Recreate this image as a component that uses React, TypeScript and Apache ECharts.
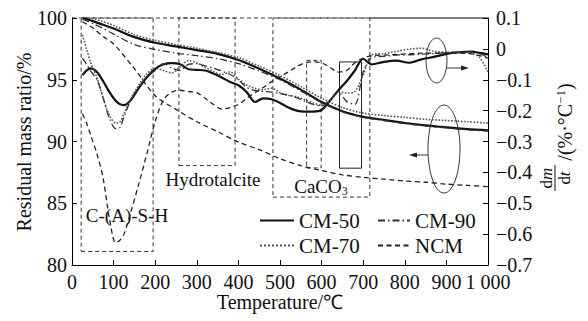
import React, { useEffect, useRef } from 'react';
import * as echarts from 'echarts';

const FONT = 'Liberation Serif, Times New Roman, serif';

// ---- TG (residual mass ratio, left axis) ----
const tempTG = [25, 50, 75, 100, 150, 200, 250, 300, 350, 400, 450, 500, 550, 600, 650, 700, 750, 800, 850, 900, 950, 1000];
const tgCM50 = [100.0, 99.75, 99.45, 99.15, 98.45, 98.0, 97.7, 97.4, 97.1, 96.6, 95.9, 95.1, 94.2, 93.2, 92.45, 92.0, 91.75, 91.5, 91.3, 91.15, 91.0, 90.9];
const tgCM70 = [100.1, 99.95, 99.7, 99.4, 98.65, 98.2, 97.85, 97.55, 97.2, 96.8, 96.1, 95.35, 94.45, 93.5, 92.75, 92.3, 92.1, 91.95, 91.8, 91.7, 91.6, 91.5];
const tgCM90 = [99.9, 99.55, 99.15, 98.7, 97.85, 97.45, 97.15, 96.95, 96.7, 96.3, 95.7, 95.0, 94.1, 93.15, 92.4, 91.95, 91.7, 91.45, 91.25, 91.1, 90.95, 90.85];
const tgNCM = [99.7, 99.2, 98.5, 97.9, 95.9, 93.7, 92.6, 91.6, 90.8, 89.95, 89.35, 88.6, 88.05, 87.65, 87.3, 87.1, 86.95, 86.8, 86.7, 86.55, 86.45, 86.35];

// ---- DTG (dm/dt, right axis) ----
const tempDTG = [25, 35, 45, 60, 75, 90, 105, 115, 125, 140, 160, 180, 200, 220, 240, 260, 280, 300, 320, 340, 360, 380, 400, 420, 440, 460, 480, 500, 520, 540, 560, 580, 600, 620, 640, 660, 680, 700, 720, 750, 780, 810, 840, 870, 900, 930, 960, 980, 1000];
const dtgCM50 = [-0.085, -0.07, -0.063, -0.075, -0.105, -0.14, -0.168, -0.179, -0.182, -0.168, -0.128, -0.092, -0.065, -0.05, -0.046, -0.05, -0.066, -0.068, -0.07, -0.08, -0.093, -0.107, -0.118, -0.14, -0.172, -0.16, -0.163, -0.175, -0.19, -0.2, -0.203, -0.203, -0.198, -0.168, -0.135, -0.105, -0.07, -0.032, -0.05, -0.042, -0.038, -0.045, -0.034, -0.026, -0.016, -0.011, -0.009, -0.013, -0.018];
const dtgCM70 = [0.045, 0.0, -0.045, -0.092, -0.16, -0.215, -0.24, -0.237, -0.21, -0.165, -0.118, -0.08, -0.063, -0.07, -0.078, -0.058, -0.038, -0.045, -0.06, -0.073, -0.083, -0.075, -0.098, -0.117, -0.128, -0.132, -0.127, -0.142, -0.15, -0.155, -0.165, -0.175, -0.183, -0.168, -0.138, -0.143, -0.138, -0.085, -0.02, -0.015, -0.008, -0.001, 0.002, -0.008, -0.011, -0.012, -0.014, -0.028, -0.075];
const dtgCM90 = [-0.03, -0.05, -0.072, -0.1, -0.16, -0.225, -0.258, -0.255, -0.22, -0.17, -0.125, -0.092, -0.07, -0.048, -0.062, -0.07, -0.05, -0.048, -0.055, -0.062, -0.072, -0.083, -0.1, -0.125, -0.135, -0.138, -0.14, -0.145, -0.15, -0.158, -0.17, -0.18, -0.185, -0.165, -0.14, -0.17, -0.18, -0.075, -0.028, -0.024, -0.02, -0.019, -0.017, -0.015, -0.012, -0.01, -0.009, -0.015, -0.028];
const dtgNCM = [-0.21, -0.24, -0.28, -0.34, -0.42, -0.55, -0.628, -0.62, -0.6, -0.535, -0.44, -0.34, -0.235, -0.165, -0.14, -0.134, -0.138, -0.142, -0.16, -0.18, -0.195, -0.19, -0.18, -0.16, -0.142, -0.125, -0.106, -0.09, -0.075, -0.058, -0.045, -0.042, -0.045, -0.06, -0.075, -0.07, -0.045, -0.03, -0.022, -0.02, -0.018, -0.016, -0.014, -0.014, -0.014, -0.014, -0.016, -0.022, -0.03];

const seriesNames = ['CM-50', 'CM-70', 'CM-90', 'NCM'];
const tgValues = [tgCM50, tgCM70, tgCM90, tgNCM];
const dtgValues = [dtgCM50, dtgCM70, dtgCM90, dtgNCM];

// Region boxes, in data coords of the left axis: [x1, y1, x2, y2]
const boxCASH = [22, 81.1, 195, 100];
const boxHydro = [257, 88.05, 392, 100];
const boxCaCO3 = [483, 85.5, 716, 100];
const boxInner = [564, 87.86, 599, 96.57];
const boxSolid = [643, 87.84, 696, 96.44];

const lineStyles: Record<string, any> = {
  'CM-50': { color: '#111', width: 2.2, type: 'solid' },
  'CM-70': { color: '#555', width: 1.6, type: 'dotted' },
  'CM-90': { color: '#333', width: 1.3, type: [7, 3, 1.5, 3] },
  NCM: { color: '#222', width: 1.3, type: [5, 3.5] },
};

export default function App() {
  const ref = useRef<HTMLDivElement>(null);
  useEffect(() => {
    const chart = echarts.init(ref.current!, null, { renderer: 'svg' });
    const pair = (xs: number[], ys: number[]) => xs.map((x, i) => [x, ys[i]]);
    const box = (b: number[], extra?: any) => [
      { coord: [b[0], b[1]], ...(extra || {}) },
      { coord: [b[2], b[3]] },
    ];

    const series: any[] = [];
    seriesNames.forEach((name, i) => {
      const ls = lineStyles[name];
      const s: any = {
        name,
        type: 'line',
        yAxisIndex: 0,
        data: pair(tempTG, tgValues[i]),
        showSymbol: false,
        symbol: 'none',
        smooth: 0.3,
        lineStyle: ls,
        itemStyle: { color: ls.color },
        emphasis: { disabled: true },
        silent: true,
        z: 3,
      };
      if (i === 0) {
        s.markArea = {
          silent: true,
          label: { show: false },
          itemStyle: { color: 'rgba(0,0,0,0)', borderColor: '#333', borderWidth: 1, borderType: [4, 3] },
          emphasis: { disabled: true },
          data: [
            box(boxCASH),
            box(boxHydro),
            box(boxCaCO3),
            box(boxInner),
            box(boxSolid, { itemStyle: { borderType: 'solid', borderColor: '#222', color: 'rgba(0,0,0,0)' } }),
          ],
        };
      }
      series.push(s);
    });
    seriesNames.forEach((name, i) => {
      const ls = lineStyles[name];
      series.push({
        name,
        type: 'line',
        yAxisIndex: 1,
        data: pair(tempDTG, dtgValues[i]),
        showSymbol: false,
        symbol: 'none',
        smooth: 0.3,
        lineStyle: ls,
        itemStyle: { color: ls.color },
        emphasis: { disabled: true },
        silent: true,
        z: 3,
      });
    });

    const legendCommon = {
      orient: 'vertical',
      padding: 0,
      itemGap: 4,
      itemHeight: 12,
      selectedMode: false,
      itemStyle: { color: 'rgba(0,0,0,0)', borderColor: 'rgba(0,0,0,0)', borderWidth: 0 },
      textStyle: { fontSize: 21, fontFamily: FONT, color: '#111' },
    };

    const txt = (text: string, x: number, y: number, size: number, extra?: any) => ({
      type: 'text',
      x,
      y,
      silent: true,
      ...(extra || {}),
      style: {
        text,
        fontSize: size,
        fontFamily: FONT,
        fill: '#111',
        align: 'center',
        textAlign: 'center',
        verticalAlign: 'middle',
        textVerticalAlign: 'middle',
        ...((extra && extra.style) || {}),
      },
    });
    const R = Math.PI / 2;

    chart.setOption({
      animation: false,
      backgroundColor: '#fff',
      grid: { left: 72, right: 100, top: 18, bottom: 56, containLabel: false },
      xAxis: {
        type: 'value',
        min: 0,
        max: 1000,
        interval: 100,
        axisLine: { show: true, onZero: false, lineStyle: { color: '#000', width: 1 } },
        axisTick: { show: true, inside: true, length: 5, lineStyle: { color: '#000' } },
        axisLabel: {
          color: '#111',
          fontSize: 20,
          fontFamily: FONT,
          margin: 7,
          formatter: (v: number) => (v === 1000 ? '1 000' : String(v)),
        },
        splitLine: { show: false },
      },
      yAxis: [
        {
          type: 'value',
          position: 'left',
          min: 80,
          max: 100,
          interval: 5,
          axisLine: { show: true, onZero: false, lineStyle: { color: '#000', width: 1 } },
          axisTick: { show: true, inside: true, length: 5, lineStyle: { color: '#000' } },
          axisLabel: { color: '#111', fontSize: 20, fontFamily: FONT, margin: 5 },
          splitLine: { show: false },
        },
        {
          type: 'value',
          position: 'right',
          min: -0.7,
          max: 0.1,
          interval: 0.1,
          axisLine: { show: true, onZero: false, lineStyle: { color: '#000', width: 1 } },
          axisTick: { show: true, inside: true, length: 5, lineStyle: { color: '#000' } },
          axisLabel: {
            color: '#111',
            fontSize: 20,
            fontFamily: FONT,
            margin: 8,
            formatter: (v: number) => {
              const r = Math.round(v * 10) / 10;
              if (r === 0) return '0';
              return r < 0 ? '\u2212' + Math.abs(r).toFixed(1) : r.toFixed(1);
            },
          },
          splitLine: { show: false },
        },
      ],
      legend: [
        { ...legendCommon, data: ['CM-50', 'CM-70'], left: 259, top: 210, itemWidth: 34 },
        { ...legendCommon, data: ['CM-90', 'NCM'], left: 377, top: 210, itemWidth: 32 },
      ],
      graphic: [
        // top border of the plot: dashed over the region boxes, solid to the right
        { type: 'line', silent: true, shape: { x1: 72, y1: 18, x2: 369, y2: 18 }, style: { stroke: '#333', lineWidth: 1, lineDash: [4, 3] } },
        { type: 'line', silent: true, shape: { x1: 369, y1: 18, x2: 488, y2: 18 }, style: { stroke: '#000', lineWidth: 1 } },
        // region labels
        txt('C-(A)-S-H', 127, 215, 19),
        txt('Hydrotalcite', 213, 179, 19),
        txt('CaCO{s|3}', 321, 186, 19, {
          style: { rich: { s: { fontSize: 12, fontFamily: FONT, padding: [9, 0, 0, 0], fill: '#111' } } },
        }),
        // ellipse + arrow pointing to the right axis (DTG)
        { type: 'ellipse', silent: true, shape: { cx: 436.5, cy: 60.5, rx: 10.5, ry: 22.5 }, style: { fill: 'none', stroke: '#222', lineWidth: 0.9 } },
        { type: 'line', silent: true, shape: { x1: 447, y1: 68, x2: 463, y2: 68 }, style: { stroke: '#222', lineWidth: 0.9 } },
        { type: 'polygon', silent: true, shape: { points: [[469, 68], [461, 65.6], [461, 70.4]] }, style: { fill: '#222' } },
        // ellipse + arrow pointing to the left axis (TG)
        { type: 'ellipse', silent: true, shape: { cx: 444, cy: 149, rx: 16, ry: 44 }, style: { fill: 'none', stroke: '#222', lineWidth: 0.9 } },
        { type: 'line', silent: true, shape: { x1: 428, y1: 155, x2: 415, y2: 155 }, style: { stroke: '#222', lineWidth: 0.9 } },
        { type: 'polygon', silent: true, shape: { points: [[409, 155], [417, 152.6], [417, 157.4]] }, style: { fill: '#222' } },
        // axis titles
        txt('Temperature/\u2103', 280, 302, 20),
        txt('Residual mass ratio/%', 24, 142, 20, { rotation: R }),
        // right title: dm/dt (fraction) /(%·°C^-1), rotated
        txt('d{i|m}', 546, 178, 17, {
          rotation: R,
          style: { rich: { i: { fontSize: 17, fontFamily: FONT, fontStyle: 'italic', fill: '#111' } } },
        }),
        { type: 'line', silent: true, shape: { x1: 555, y1: 165, x2: 555, y2: 191 }, style: { stroke: '#111', lineWidth: 1 } },
        txt('d{i|t}', 564, 178, 17, {
          rotation: R,
          style: { rich: { i: { fontSize: 17, fontFamily: FONT, fontStyle: 'italic', fill: '#111' } } },
        }),
        txt('/(%\u00b7\u00b0C{sup|\u22121})', 565, 122, 20, {
          rotation: R,
          style: { rich: { sup: { fontSize: 13, fontFamily: FONT, padding: [0, 0, 9, 0], fill: '#111' } } },
        }),
      ],
      series,
    });
    return () => chart.dispose();
  }, []);
  return (
    <div
      ref={ref}
      style={{ position: 'fixed', left: 0, top: 0, width: 588, height: 321, background: '#fff' }}
    />
  );
}
